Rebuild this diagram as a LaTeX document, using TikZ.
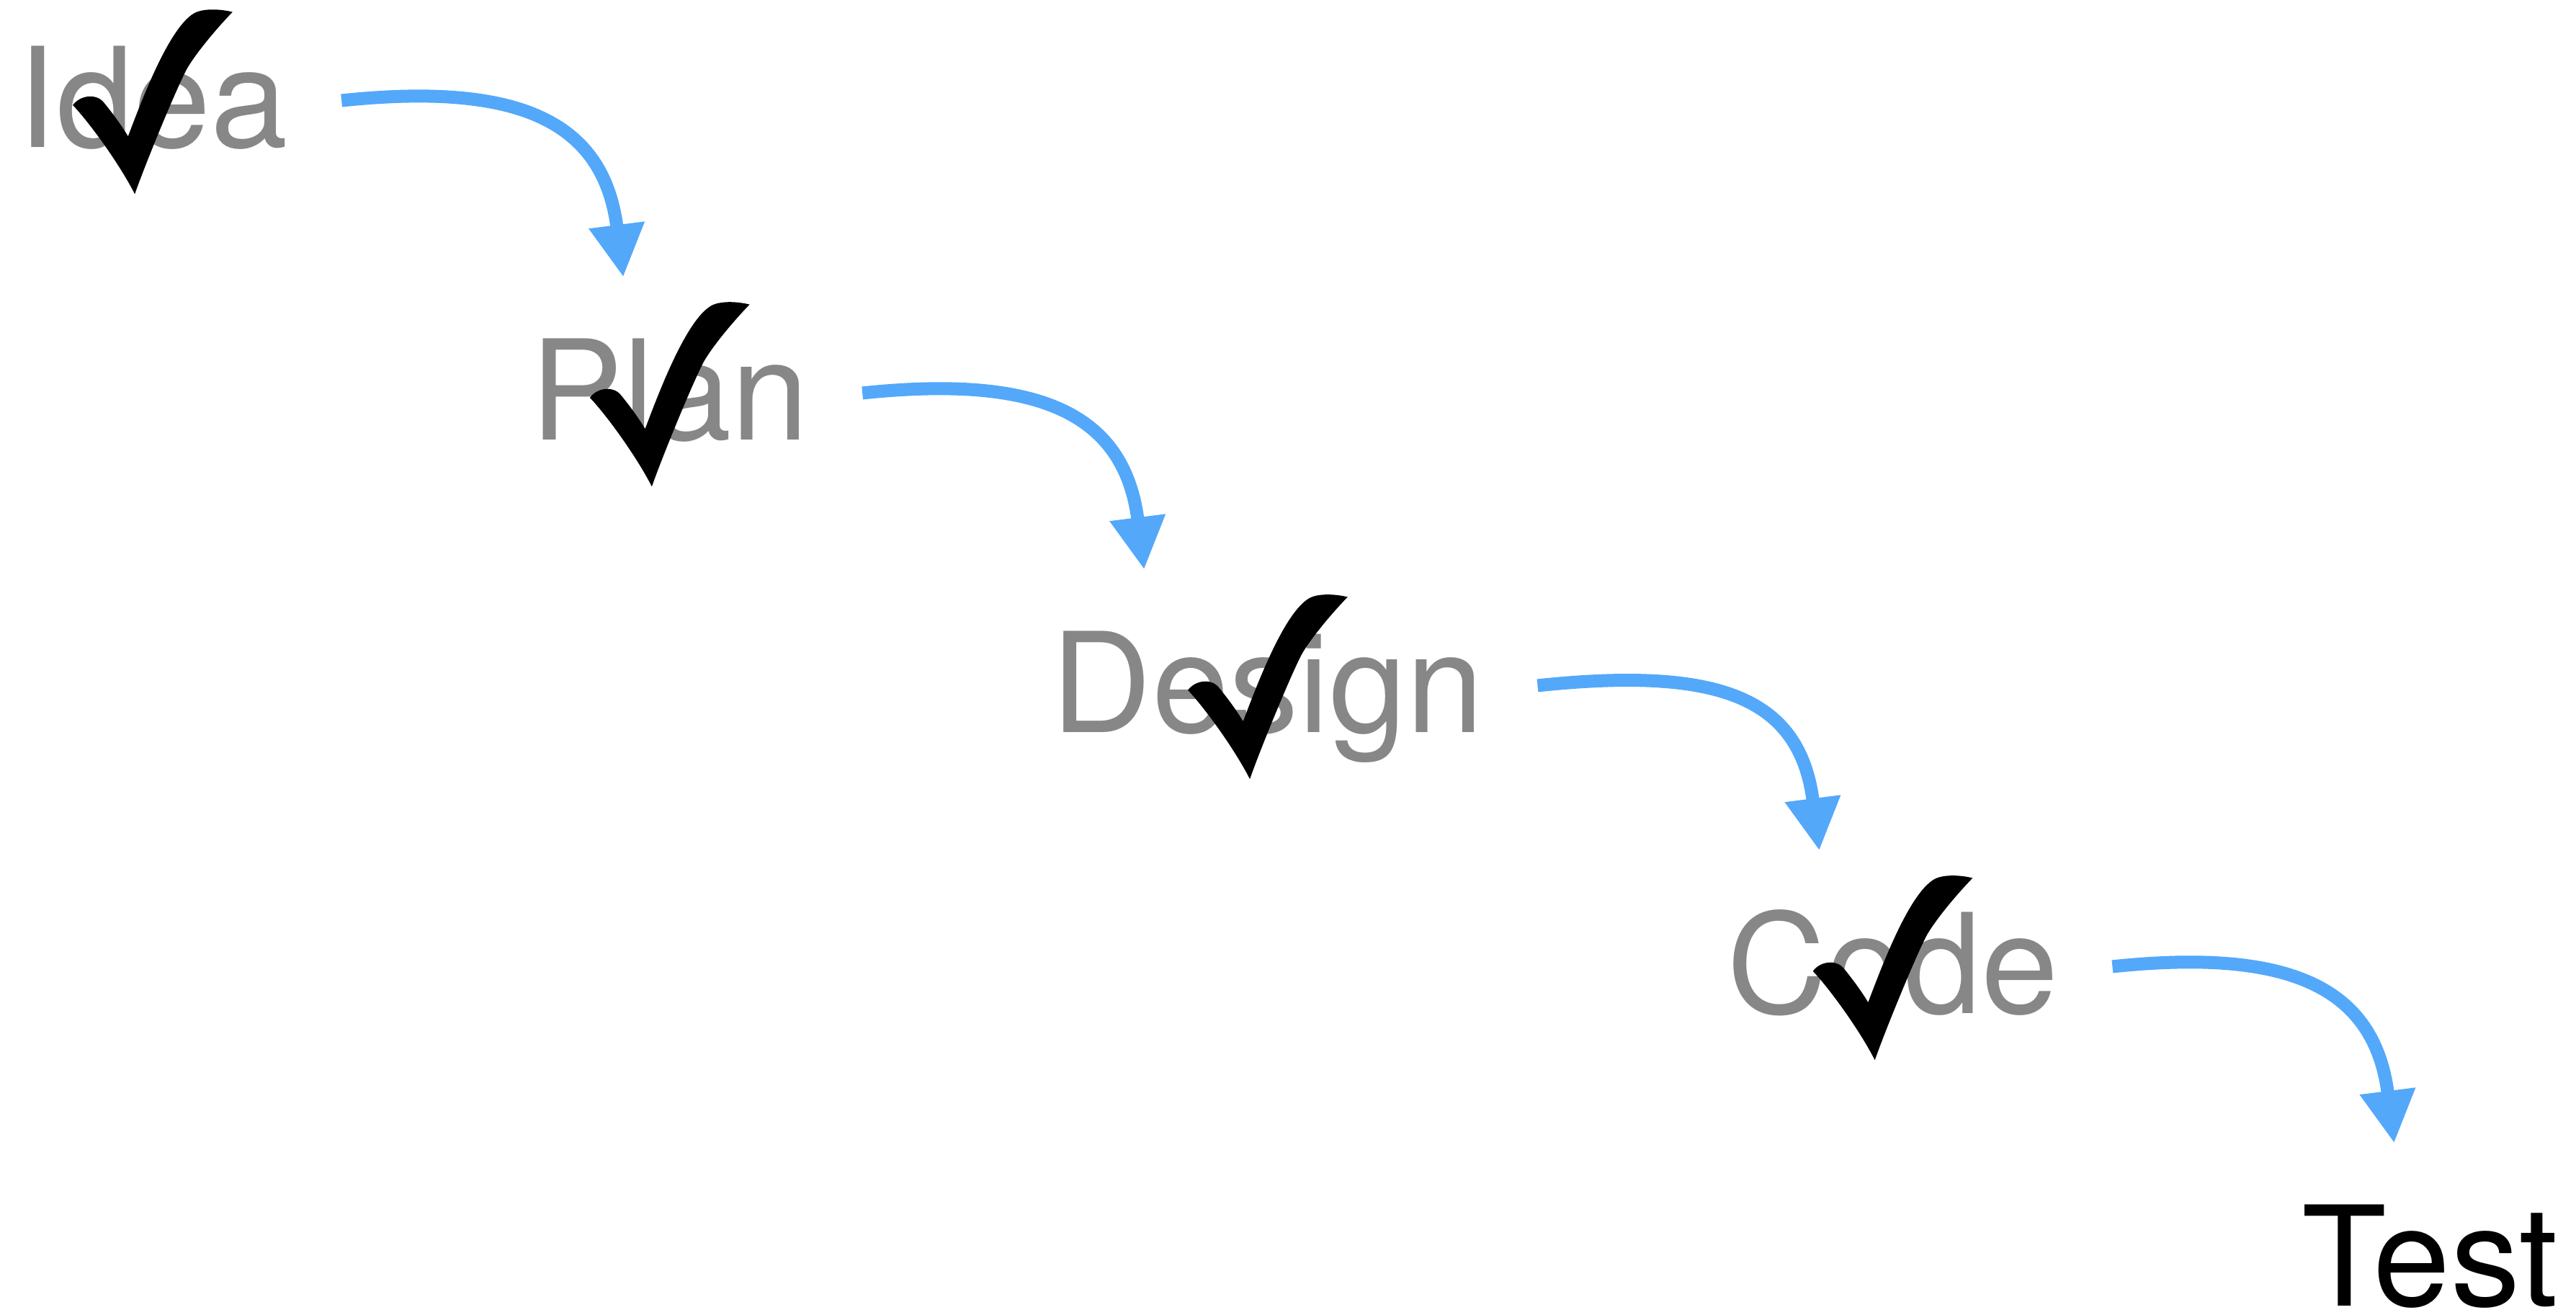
\documentclass[tikz,border=0pt]{standalone}
\usepackage{fontspec}
\setmainfont{TeX Gyre Heros}
\usetikzlibrary{positioning,arrows.meta}

\definecolor{stepgray}{RGB}{135,135,135}
\definecolor{flowblue}{RGB}{83,168,250}

\tikzset{
  tickmark/.pic={
    \fill[black] (-0.109,-0.559)
      .. controls (-0.2,-0.38) and (-0.38,-0.13) .. (-0.486,-0.018)
      .. controls (-0.44,0.045) and (-0.34,0.055) .. (-0.296,-0.004)
      .. controls (-0.25,-0.06) and (-0.19,-0.14) .. (-0.150,-0.208)
      .. controls (-0.06,0.03) and (0.10,0.45) .. (0.25,0.54)
      .. controls (0.3,0.57) and (0.4,0.57) .. (0.486,0.549)
      .. controls (0.40,0.46) and (0.28,0.32) .. (0.216,0.216)
      .. controls (0.166,0.136) and (-0.039,-0.359) .. (-0.109,-0.559) -- cycle;
  }
}

\begin{document}
\begin{tikzpicture}[
  word/.style={font=\fontsize{24.05}{29}\selectfont, text=stepgray,
    inner sep=0pt, anchor=base west},
  flow/.style={draw=flowblue, line width=2.25pt,
    -{Triangle[length=3.2mm, width=3.2mm]}}
]
  \useasboundingbox (0,0) rectangle (15.68,8.0);

  \node[word] (idea) at (0.1,7.103) {Idea};
  \node[word, below right=1.78cm and 1.465cm of idea.base east, anchor=base west] (plan) {Plan};
  \node[word, below right=1.78cm and 1.465cm of plan.base east, anchor=base west] (design) {Design};
  \node[word, below right=1.71cm and 1.465cm of design.base east, anchor=base west] (code) {Code};
  \node[word, text=black, below right=1.78cm and 1.465cm of code.base east, anchor=base west] (test) {Test};

  % curved arrows between the steps
  \foreach \src/\dst in {idea/plan, plan/design, design/code, code/test}
    \draw[flow] ([shift={(0.32,0.285)}]\src.base east)
      .. controls +(1.094,0.115) and +(-0.119,0.94) .. ([shift={(0.57,0.99)}]\dst.base west);

  % ticks on the finished steps
  \foreach \src in {idea, plan, design, code}
    \pic at ([yshift=0.275cm]\src.base) {tickmark};
\end{tikzpicture}
\end{document}
